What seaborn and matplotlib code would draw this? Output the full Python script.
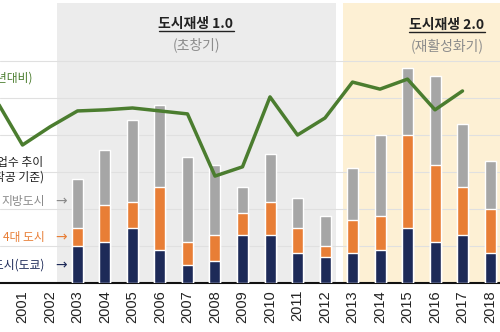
import matplotlib
matplotlib.use('Agg')
import matplotlib.pyplot as plt
from matplotlib.lines import Line2D
import seaborn as sns
import pandas as pd

# ---- data ----
years = list(range(2003, 2019))
tokyo = [10, 11, 15, 9, 5, 6, 13, 13, 8, 7, 8, 9, 15, 11, 13, 8]
big4 = [5, 10, 7, 17, 6, 7, 6, 9, 7, 3, 9, 9, 25, 21, 13, 12]
local = [13, 15, 22, 22, 23, 19, 7, 13, 8, 8, 14, 22, 18, 24, 17, 13]
line_years = list(range(2000, 2018))
line_vals = [50.0, 37.3, 42.2, 46.5, 46.8, 47.3, 46.5, 45.7, 28.9, 31.4,
             50.3, 40.0, 44.6, 54.3, 52.4, 55.1, 46.8, 51.9]
tick_years = list(range(2000, 2019))
tick_labels = [str(y) for y in tick_years]

C_NAVY = '#1d2a58'
C_ORANGE = '#e87e36'
C_GRAY = '#a6a6a6'
C_GREEN = '#4b7d2f'

sns.set_theme(style='white')
plt.rcParams['font.family'] = ['Noto Sans CJK KR', 'DejaVu Sans']

W, H = 500, 332
fig = plt.figure(figsize=(5, 3.32), dpi=100)
fig.patch.set_facecolor('white')
base_px = 283
ppu = 3.7  # pixels per unit
ax = fig.add_axes([0, (H - base_px) / H, 1, base_px / H])
ax.set_facecolor('white')

def px2year(px):
    return 2000 + (px + 5) / 27.5

x0, x1 = px2year(0), px2year(500)
ytop = base_px / ppu

df = pd.DataFrame({'year': years, 'tokyo': tokyo, 'big4': big4, 'local': local})
df['s2'] = df['tokyo'] + df['big4']
df['s3'] = df['s2'] + df['local']

# period backgrounds
ax.axvspan(px2year(57), px2year(336), ymin=0, ymax=(base_px - 3) / base_px,
           color='#ececec', lw=0, zorder=0)
ax.axvspan(px2year(343), x1 + 1, ymin=0, ymax=(base_px - 3) / base_px,
           color='#fdf0d4', lw=0, zorder=0)
for v in [10, 20, 30, 40, 50, 60]:
    ax.axhline(v, color='#e0e0e0', lw=0.8, zorder=0.5)

sns.barplot(data=df, x='year', y='s3', native_scale=True, color=C_GRAY,
            width=0.4, saturation=1, errorbar=None, ax=ax, zorder=2)
sns.barplot(data=df, x='year', y='s2', native_scale=True, color=C_ORANGE,
            width=0.4, saturation=1, errorbar=None, ax=ax, zorder=3)
sns.barplot(data=df, x='year', y='tokyo', native_scale=True, color=C_NAVY,
            width=0.4, saturation=1, errorbar=None, ax=ax, zorder=4)

ax.set_xlim(x0, x1)
ax.set_ylim(0, ytop)
ax.set_xticks(tick_years)
ax.set_xticklabels(tick_labels, rotation=90, fontfamily='Liberation Sans',
                   fontsize=10.5, color='#222222')
ax.tick_params(axis='x', length=0, pad=5)
ax.set_yticks([])
ax.set_xlabel('')
ax.set_ylabel('')
for s in ['top', 'left', 'right']:
    ax.spines[s].set_visible(False)
ax.spines['bottom'].set_color('#111111')
ax.spines['bottom'].set_linewidth(1.5)

ax2 = ax.twinx()
sns.lineplot(x=line_years, y=line_vals, ax=ax2, color=C_GREEN, lw=2.5)
ax2.set_ylim(0, ytop)
ax2.set_xlim(x0, x1)
ax2.set_yticks([])
ax2.set_ylabel('')
for s in ax2.spines.values():
    s.set_visible(False)

def ftext(x, y, s, **kw):
    return fig.text(x / W, 1 - y / H, s, va='center', **kw)

t1 = ftext(196, 24, '도시재생 1.0', ha='center', fontsize=10, fontweight='bold', color='#222222')
ftext(196, 45, '(초창기)', ha='center', fontsize=10, color='#8c8c8c')
t2 = ftext(447, 25, '도시재생 2.0', ha='center', fontsize=10, fontweight='bold', color='#222222')
ftext(447, 46, '(재활성화기)', ha='center', fontsize=10, color='#8c8c8c')

fs = 8.5
ftext(33, 78, '(전년대비)', ha='right', fontsize=fs, color=C_GREEN)
ftext(43, 162, '도시재생 사업수 추이', ha='right', fontsize=fs, color='#222222')
ftext(44, 177, '(착공 기준)', ha='right', fontsize=fs, color='#222222')
ftext(45, 201, '지방도시', ha='right', fontsize=fs, color='#8a8a8a')
ftext(45, 237, '4대 도시', ha='right', fontsize=fs, color=C_ORANGE)
ftext(44, 265, '대도시(도쿄)', ha='right', fontsize=fs, color=C_NAVY)
for y, c in [(201, '#8a8a8a'), (237, C_ORANGE), (265, C_NAVY)]:
    ftext(61, y, '→', ha='center', fontsize=10, family='DejaVu Sans', color=c)

fig.canvas.draw()
for t, uy in [(t1, 31), (t2, 32)]:
    bb = t.get_window_extent()
    fig.add_artist(Line2D([bb.x0 / W, bb.x1 / W], [(H - uy) / H] * 2,
                          transform=fig.transFigure, color='#222222', lw=1))

fig.savefig('out.png', dpi=100, facecolor='white')
